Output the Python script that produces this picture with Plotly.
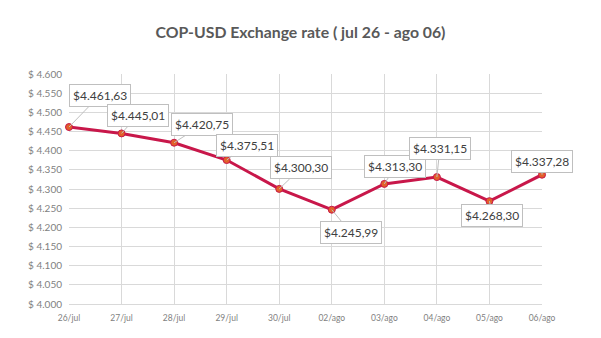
import plotly.graph_objects as go

dates = ["26/jul", "27/jul", "28/jul", "29/jul", "30/jul", "02/ago", "03/ago", "04/ago", "05/ago", "06/ago"]
rates = [4461.63, 4445.01, 4420.75, 4375.51, 4300.30, 4245.99, 4313.30, 4331.15, 4268.30, 4337.28]
labels = ["$4.461,63", "$4.445,01", "$4.420,75", "$4.375,51", "$4.300,30",
          "$4.245,99", "$4.313,30", "$4.331,15", "$4.268,30", "$4.337,28"]
label_dx = [31, 16, 28, 20, 22, 19, 11, 3, 3, 0]
label_dy = [-32, -18, -18, -15, -21, 23, -17, -29, 14, -13]
ytick_vals = list(range(4000, 4601, 50))
ytick_text = ["$ " + f"{v:,}".replace(",", ".") for v in ytick_vals]

xi = list(range(len(dates)))

fig = go.Figure()
fig.add_trace(go.Scatter(
    x=xi, y=rates, mode="lines+markers",
    line=dict(color="#c8174a", width=3),
    marker=dict(color="#e2602a", size=7, line=dict(color="#c8174a", width=1)),
    hoverinfo="skip", showlegend=False, cliponaxis=False,
))

for x, y, t, dx, dy in zip(xi, rates, labels, label_dx, label_dy):
    fig.add_annotation(
        x=x, y=y, text=t, ax=dx, ay=dy,
        showarrow=True, arrowhead=0, arrowwidth=1, arrowcolor="#bfbfbf",
        bgcolor="white", bordercolor="#bfbfbf", borderwidth=1, borderpad=3,
        font=dict(family="Lato", size=12, color="#404040"),
    )

fig.update_layout(
    width=601, height=338,
    margin=dict(l=69, r=59, t=74, b=34),
    paper_bgcolor="white", plot_bgcolor="white",
    title=dict(text="<b>COP-USD Exchange rate ( jul 26 - ago 06)</b>",
               x=0.5, xanchor="center", y=1 - 32 / 338, yanchor="middle",
               font=dict(family="Lato", size=15.8, color="#595959")),
    xaxis=dict(range=[0, len(dates) - 1], tickvals=xi, ticktext=dates,
               showgrid=True, gridcolor="#d9d9d9", gridwidth=1,
               showline=True, linecolor="#d9d9d9", zeroline=False,
               tickfont=dict(family="Lato", size=8.5, color="#7f7f7f"),
               ticks="", ticklabelstandoff=6),
    yaxis=dict(range=[4000, 4600], tickvals=ytick_vals, ticktext=ytick_text,
               showgrid=True, gridcolor="#d9d9d9", gridwidth=1,
               zeroline=False, showline=False,
               tickfont=dict(family="Lato", size=10, color="#7f7f7f"),
               ticks="", ticklabelstandoff=6),
)

fig.write_html("out.html")
